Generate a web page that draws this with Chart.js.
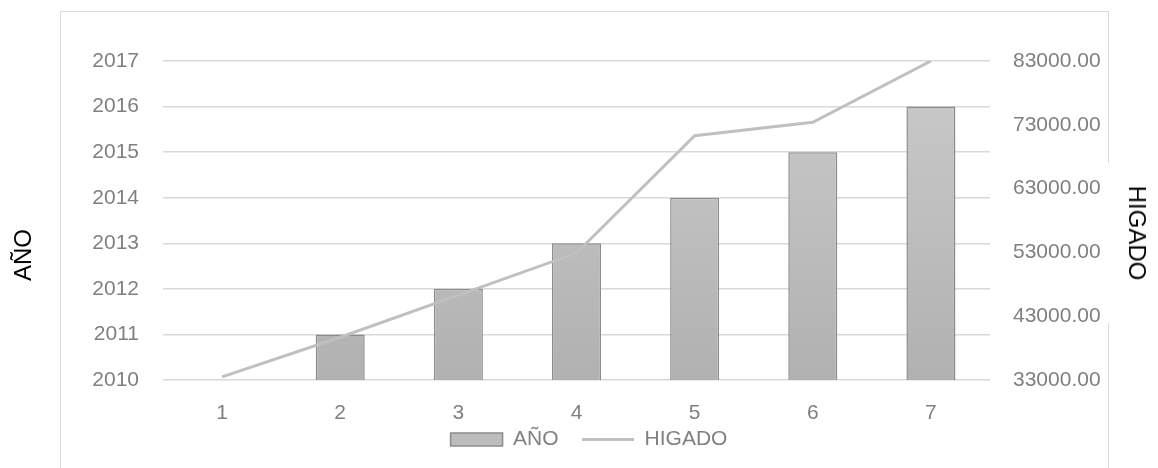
<!DOCTYPE html>
<html>
<head>
<meta charset="UTF-8" />
<title>AÑO / HIGADO</title>
<script src="https://cdn.jsdelivr.net/npm/chart.js"></script>
<style>
body { margin:0; background:#fff; }
#wrap { position:relative; width:1158px; height:468px; overflow:hidden; }
#frame { position:absolute; left:60px; top:11px; width:1049px; height:500px; border:1.5px solid #d9d9d9; box-sizing:border-box; }
#gap { position:absolute; left:1104px; top:163px; width:12px; height:160px; background:#fff; }
canvas { position:absolute; left:0; top:0; }
.axt { position:absolute; font:24px 'Liberation Sans', Arial, sans-serif; color:#000; white-space:nowrap; transform-origin:center center; }
#tl { left:23px; top:255px; transform:translate(-50%,-50%) rotate(-90deg); }
#tr { left:1137px; top:233px; transform:translate(-50%,-50%) rotate(90deg); }
</style>
</head>
<body>
<div id="wrap">
  <div id="frame"></div>
  <div id="gap"></div>
  <canvas id="chart" width="1158" height="468"></canvas>
  <div class="axt" id="tl">AÑO</div>
  <div class="axt" id="tr">HIGADO</div>
</div>

<script>
// values
const categories = ['1', '2', '3', '4', '5', '6', '7'];
const anio = [2010, 2011, 2012, 2013, 2014, 2015, 2016];
const higado = [33500, 39700, 46300, 52900, 71300, 73400, 83000];

const FONT = "'Liberation Sans', Arial, sans-serif";
const TICK = '#808080';
const GRID = '#d9d9d9';

const barFill = (c) => {
  const a = c.chart.chartArea;
  if (!a) return '#bfbfbf';
  const g = c.chart.ctx.createLinearGradient(0, a.top, 0, a.bottom);
  g.addColorStop(0, '#cbcbcb');
  g.addColorStop(1, '#b1b1b1');
  return g;
};

new Chart(document.getElementById('chart'), {
  type: 'bar',
  data: {
    labels: categories,
    datasets: [
      {
        label: 'AÑO',
        data: anio,
        yAxisID: 'y',
        order: 1,
        backgroundColor: barFill,
        borderColor: '#8c8c8c',
        borderWidth: 1.5,
        borderSkipped: 'start',
        categoryPercentage: 1,
        barPercentage: 0.415
      },
      {
        type: 'line',
        label: 'HIGADO',
        data: higado,
        yAxisID: 'y1',
        order: 0,
        borderColor: '#c0c0c0',
        borderWidth: 3,
        pointRadius: 0,
        tension: 0,
        fill: false
      }
    ]
  },
  options: {
    responsive: false,
    animation: false,
    layout: { padding: { left: 23, right: 3, top: 61, bottom: 8 } },
    plugins: {
      tooltip: { enabled: false },
      legend: {
        position: 'bottom',
        labels: {
          font: { family: FONT, size: 21 },
          color: TICK,
          usePointStyle: true,
          pointStyleWidth: 52,
          boxHeight: 13,
          padding: 6,
          // trailing spaces widen the gap between the two legend items
          generateLabels: (chart) => chart.data.datasets.map((ds, i) => ({
            text: i === 0 ? ds.label + '   ' : ds.label,
            datasetIndex: i,
            fontColor: TICK,
            fillStyle: i === 0 ? '#bdbdbd' : '#c0c0c0',
            strokeStyle: i === 0 ? '#8c8c8c' : '#c0c0c0',
            lineWidth: i === 0 ? 1.5 : 3,
            pointStyle: i === 0 ? 'rect' : 'line',
            hidden: false
          }))
        }
      }
    },
    scales: {
      x: {
        grid: { display: false, drawTicks: false },
        border: { display: false },
        ticks: { font: { family: FONT, size: 21 }, color: TICK, padding: 21 },
        afterFit: (s) => { s.height = 43; }
      },
      y: {
        position: 'left',
        min: 2010,
        max: 2017,
        grid: { color: GRID, lineWidth: 1.5, drawTicks: false },
        border: { display: false },
        ticks: {
          stepSize: 1,
          font: { family: FONT, size: 21 },
          color: TICK,
          padding: 24,
          callback: (v) => String(v)
        },
        afterFit: (s) => { s.width = 140; }
      },
      y1: {
        position: 'right',
        min: 33000,
        max: 83000,
        grid: { display: false, drawTicks: false },
        border: { display: false },
        ticks: {
          stepSize: 10000,
          font: { family: FONT, size: 21 },
          color: TICK,
          padding: 23,
          callback: (v) => Number(v).toFixed(2)
        },
        afterFit: (s) => { s.width = 165; }
      }
    }
  }
});
</script>
</body>
</html>
